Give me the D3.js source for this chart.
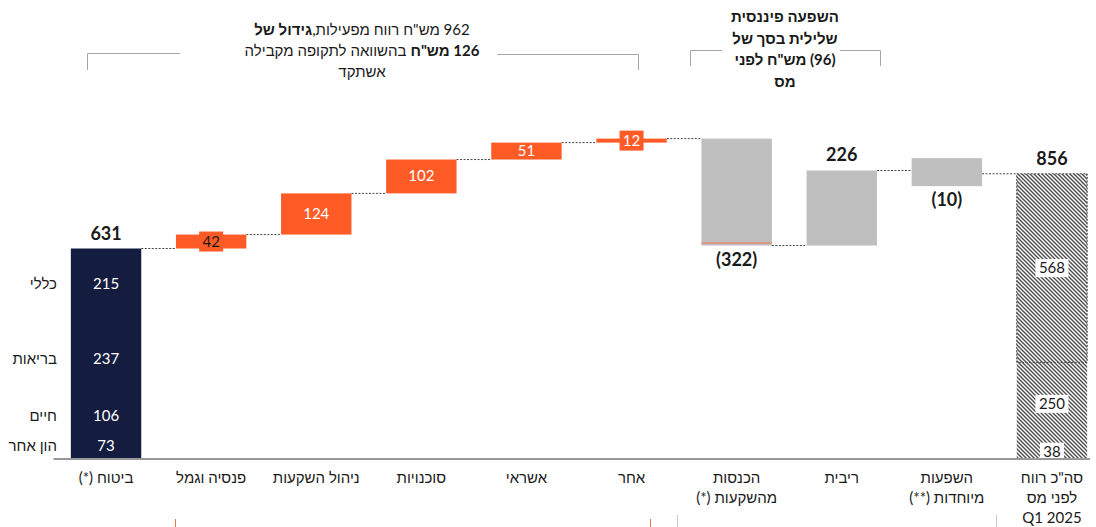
<!DOCTYPE html>
<html>
<head>
<meta charset="utf-8">
<script src="https://cdn.jsdelivr.net/npm/d3@7"></script>
<style>
  body { margin: 0; background: #fff; }
  text { font-family: Lato, 'Liberation Sans', Arial, sans-serif; fill: #1a1a1a; }
</style>
</head>
<body>
<div id="chart"></div>
<script>
// categories (\n = line break in the axis label)
const categories = [
  'ביטוח (*)', 'פנסיה וגמל', 'ניהול השקעות', 'סוכנויות', 'אשראי', 'אחר',
  'הכנסות\nמהשקעות (*)', 'ריבית', 'השפעות\nמיוחדות (**)', 'סה"כ רווח\nלפני מס\nQ1 2025'
]
const values = [631, 42, 124, 102, 51, 12, -322, 226, -10, 856]
const groups = ['base', 'ops', 'ops', 'ops', 'ops', 'ops', 'fin', 'fin', 'fin', 'total']

// breakdown of the first bar (bottom to top)
const baseNames = ['הון אחר', 'חיים', 'בריאות', 'כללי']
const baseValues = [73, 106, 237, 215]

// breakdown of the last bar (bottom to top)
const totalValues = [38, 250, 568]

// labels drawn in dark text on their box
const darkLabels = ['פנסיה וגמל']

const W = 1096
const H = 527
const svg = d3.select('#chart').append('svg')
  .attr('width', W)
  .attr('height', H)

const x = d3.scaleBand()
  .domain(categories)
  .range([53.5, 1104.5])
  .paddingInner(0.33)
  .paddingOuter(0.165)

const y = d3.scaleLinear()
  .domain([0, 1000])
  .range([458, 126])

const fillScale = d3.scaleOrdinal()
  .domain(['base', 'ops', 'fin', 'total'])
  .range(['#141d3f', '#ff5b27', '#bfbfbf', 'url(#hatch)'])

const bw = x.bandwidth()

// hatch for the total bar
const pat = svg.append('defs').append('pattern')
  .attr('id', 'hatch')
  .attr('patternUnits', 'userSpaceOnUse')
  .attr('width', 4)
  .attr('height', 4)
pat.append('rect').attr('width', 4).attr('height', 4).attr('fill', '#fff')
pat.append('path')
  .attr('d', 'M-1,-1L5,5M-1,3L1,5M3,-1L5,1')
  .attr('stroke', '#4d4d4d')
  .attr('stroke-width', 1.4)

// running totals
let run = 0
const bars = categories.map((c, i) => {
  const v = values[i]
  const g = groups[i]
  let start, end
  if (g === 'base' || g === 'total') { start = 0; end = v } else { start = run; end = run + v }
  run = end
  let lo = Math.min(y(start), y(end))
  let hi = Math.max(y(start), y(end))
  if (g === 'fin' && hi - lo < 28) {
    const mid = (lo + hi) / 2
    lo = mid - 14
    hi = mid + 14
  }
  return { c, v, g, start, end, lo, hi }
})

// connectors
svg.append('g').selectAll('line')
  .data(bars.slice(0, -1))
  .enter().append('line')
  .attr('x1', d => x(d.c) + bw)
  .attr('x2', (d, i) => x(bars[i + 1].c))
  .attr('y1', d => y(d.end))
  .attr('y2', d => y(d.end))
  .attr('stroke', '#444')
  .attr('stroke-width', 1)
  .attr('stroke-dasharray', '2,1.5')

// bars
svg.append('g').selectAll('rect')
  .data(bars)
  .enter().append('rect')
  .attr('x', d => x(d.c))
  .attr('width', bw)
  .attr('y', d => d.lo)
  .attr('height', d => d.hi - d.lo)
  .attr('fill', d => fillScale(d.g))

// thin orange line at the bottom of the investment income bar
const inv = bars[6]
svg.append('line')
  .attr('x1', x(inv.c))
  .attr('x2', x(inv.c) + bw)
  .attr('y1', inv.hi - 2.5)
  .attr('y2', inv.hi - 2.5)
  .attr('stroke', '#f4734a')
  .attr('stroke-width', 1.2)

// first bar breakdown
const base = bars[0]
const baseStack = []
let acc = 0
baseValues.forEach((v, i) => { baseStack.push({ name: baseNames[i], v, mid: acc + v / 2 }); acc += v })

svg.append('g').selectAll('text')
  .data(baseStack)
  .enter().append('text')
  .attr('x', x(base.c) + bw / 2)
  .attr('y', d => y(d.mid) + 5)
  .attr('text-anchor', 'middle')
  .style('font-size', '15px')
  .style('fill', '#fff')
  .text(d => d.v)

svg.append('g').selectAll('text')
  .data(baseStack)
  .enter().append('text')
  .attr('x', 57)
  .attr('y', d => y(d.mid) + 5)
  .attr('direction', 'rtl')
  .attr('text-anchor', 'start')
  .style('font-size', '15px')
  .text(d => d.name)

// last bar breakdown
const tot = bars[bars.length - 1]
const totStack = []
acc = 0
totalValues.forEach(v => { totStack.push({ v, start: acc, end: acc + v, mid: acc + v / 2 }); acc += v })
const topSeg = totStack[totStack.length - 1]
svg.append('rect')
  .attr('x', x(tot.c))
  .attr('width', bw)
  .attr('y', y(topSeg.end))
  .attr('height', y(topSeg.start) - y(topSeg.end))
  .attr('fill', 'none')
  .attr('stroke', '#444')
  .attr('stroke-width', 1)
  .attr('stroke-dasharray', '2,1.5')

const totLab = svg.append('g').selectAll('g')
  .data(totStack)
  .enter().append('g')
  .attr('transform', d => 'translate(' + (x(tot.c) + bw / 2) + ',' + y(d.mid) + ')')
totLab.append('rect')
  .attr('x', d => -(String(d.v).length * 4.5 + 3))
  .attr('width', d => String(d.v).length * 9 + 6)
  .attr('y', -9)
  .attr('height', 18)
  .attr('fill', '#fff')
totLab.append('text')
  .attr('y', 5)
  .attr('text-anchor', 'middle')
  .style('font-size', '15px')
  .text(d => d.v)

// value labels
function fmt (v) { return v < 0 ? '(' + (-v) + ')' : String(v) }
const labels = svg.append('g')
bars.forEach(d => {
  const cx = x(d.c) + bw / 2
  if (d.g === 'base' || d.g === 'total' || (d.g === 'fin' && d.v > 0)) {
    labels.append('text')
      .attr('x', cx).attr('y', d.lo - 9)
      .attr('text-anchor', 'middle')
      .style('font-size', '18px').style('font-weight', 'bold')
      .text(fmt(d.v))
  } else if (d.g === 'fin') {
    labels.append('text')
      .attr('x', cx).attr('y', d.hi + 20)
      .attr('text-anchor', 'middle')
      .style('font-size', '18px').style('font-weight', 'bold')
      .text(fmt(d.v))
  } else {
    const mid = (d.lo + d.hi) / 2
    if (d.hi - d.lo < 16) {
      labels.append('rect')
        .attr('x', cx - 12).attr('width', 24)
        .attr('y', mid - 10).attr('height', 20)
        .attr('fill', '#ff5b27')
    }
    labels.append('text')
      .attr('x', cx).attr('y', mid + 5)
      .attr('text-anchor', 'middle')
      .style('font-size', '15px')
      .style('fill', darkLabels.includes(d.c) ? '#1a1a1a' : '#fff')
      .text(fmt(d.v))
  }
})

// x axis
const xAxis = d3.axisBottom(x).tickSize(0).tickSizeOuter(0).tickFormat('')
const ax = svg.append('g')
  .attr('class', 'axis x-axis')
  .attr('transform', 'translate(0,459)')
  .call(xAxis)
ax.select('.domain').attr('stroke', '#333').attr('d', 'M53.5,0H1090')

const catText = svg.append('g').selectAll('text')
  .data(categories)
  .enter().append('text')
  .attr('x', d => x(d) + bw / 2)
  .attr('y', 483)
  .attr('direction', 'rtl')
  .attr('text-anchor', 'middle')
  .style('font-size', '15px')
catText.selectAll('tspan')
  .data(d => d.split('\n'))
  .enter().append('tspan')
  .attr('x', function () { return d3.select(this.parentNode).attr('x') })
  .attr('dy', (d, i) => i === 0 ? 0 : 20)
  .text(d => d)

// annotation brackets
const br = svg.append('g').attr('fill', 'none').attr('stroke', '#a6a6a6').attr('stroke-width', 1)
br.append('path').attr('d', 'M87.5,70V53.5H180')
br.append('path').attr('d', 'M497,54.5H638.5V70')
br.append('path').attr('d', 'M690.5,66V50.5H722')
br.append('path').attr('d', 'M840,50.5H880.5V66')
svg.append('line').attr('x1', 175.5).attr('x2', 175.5).attr('y1', 519).attr('y2', 527).attr('stroke', '#f4734a')
svg.append('line').attr('x1', 650.5).attr('x2', 650.5).attr('y1', 519).attr('y2', 527).attr('stroke', '#f4734a')
svg.append('line').attr('x1', 677.5).attr('x2', 677.5).attr('y1', 515).attr('y2', 527).attr('stroke', '#c8c8c8')
svg.append('line').attr('x1', 996.5).attr('x2', 996.5).attr('y1', 515).attr('y2', 527).attr('stroke', '#c8c8c8')

// annotation texts
const note1 = [
  [['962 מש"ח רווח מפעילות,', false], ['גידול של', true]],
  [['126 מש"ח', true], [' בהשוואה לתקופה מקבילה', false]],
  [['אשתקד', false]]
]
note1.forEach((line, i) => {
  const t = svg.append('text')
    .attr('x', 362).attr('y', 35 + i * 21)
    .attr('direction', 'rtl')
    .attr('text-anchor', 'middle')
    .style('font-size', '15px')
  line.forEach(p => {
    t.append('tspan').style('font-weight', p[1] ? 'bold' : 'normal').text(p[0])
  })
})

const note2 = ['השפעה פיננסית', 'שלילית בסך של', '(96) מש"ח לפני', 'מס']
note2.forEach((s, i) => {
  svg.append('text')
    .attr('x', 785).attr('y', 22 + i * 21.5)
    .attr('direction', 'rtl')
    .attr('text-anchor', 'middle')
    .style('font-size', '15px')
    .style('font-weight', 'bold')
    .text(s)
})
</script>
</body>
</html>
